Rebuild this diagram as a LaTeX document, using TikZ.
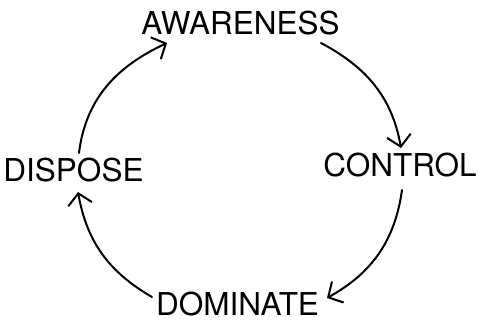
\documentclass[tikz,border=0pt]{standalone}
\usepackage{fontspec}
\setmainfont{TeX Gyre Heros}
\usetikzlibrary{arrows.meta}

\tikzset{
  etapa/.style={inner sep=0pt, font=\fontsize{31.5}{31.5}\selectfont},
  ciclo/.style={line width=2pt, line cap=round,
    -{Straight Barb[length=11pt, width=24pt, line width=2pt]}}
}

\begin{document}
\begin{tikzpicture}[x=1pt, y=1pt]
    \useasboundingbox (0,0) rectangle (479,320);

    % las cuatro etapas
    \node[etapa] (aw)  at (240.5,297)  {AWARENESS};
    \node[etapa] (co)  at (400,154.5)  {CONTROL};
    \node[etapa] (dom) at (237.5,15.5) {DOMINATE};
    \node[etapa] (dis) at (73.5,149.5) {DISPOSE};

    % flechas del ciclo, en sentido horario
    \draw[ciclo] ([shift={(80.5,-20)}]aw.center) to[out=-28, in=100]
      ([shift={(1,17.5)}]co.center);
    \draw[ciclo] ([shift={(2,-24.5)}]co.center) to[out=-98, in=29]
      ([shift={(89.5,6.5)}]dom.center);
    \draw[ciclo] ([shift={(-85.5,7.5)}]dom.center) to[out=150, in=-80]
      ([shift={(4.5,-21.5)}]dis.center);
    \draw[ciclo] ([shift={(5.5,17.5)}]dis.center) to[out=83, in=205]
      ([shift={(-73.5,-20)}]aw.center);
\end{tikzpicture}
\end{document}
